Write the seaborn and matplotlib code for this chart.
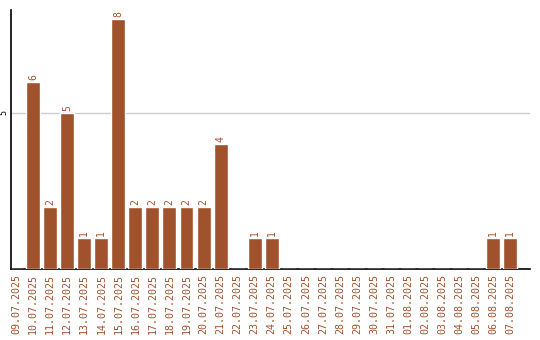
import matplotlib
matplotlib.use("Agg")
import matplotlib.pyplot as plt
import seaborn as sns
import pandas as pd

dates = ["09.07.2025", "10.07.2025", "11.07.2025", "12.07.2025", "13.07.2025",
         "14.07.2025", "15.07.2025", "16.07.2025", "17.07.2025", "18.07.2025",
         "19.07.2025", "20.07.2025", "21.07.2025", "22.07.2025", "23.07.2025",
         "24.07.2025", "25.07.2025", "26.07.2025", "27.07.2025", "28.07.2025",
         "29.07.2025", "30.07.2025", "31.07.2025", "01.08.2025", "02.08.2025",
         "03.08.2025", "04.08.2025", "05.08.2025", "06.08.2025", "07.08.2025"]
counts = [0, 6, 2, 5, 1, 1, 8, 2, 2, 2, 2, 2, 4, 0, 1, 1,
          0, 0, 0, 0, 0, 0, 0, 0, 0, 0, 0, 0, 1, 1]
y_ticks = [5]

df = pd.DataFrame({"date": dates, "count": counts})

sns.set_style("white")
plt.rcParams["font.family"] = ["DejaVu Sans Mono", "DejaVu Sans"]

bar_color = "#a0522d"
fig = plt.figure(figsize=(5.4, 3.4), dpi=100)
ax = fig.add_axes([0.0204, 0.209, 0.961, 0.762])

sns.barplot(data=df, x="date", y="count", color=bar_color, saturation=1,
            width=0.82, ax=ax, zorder=3)

for i, v in enumerate(counts):
    if v > 0:
        ax.text(i, v + 0.06, str(v), rotation=90, ha="center", va="bottom",
                fontsize=7, color=bar_color)

ax.set_ylim(0, 8.3)
ax.set_xlim(-0.3, 30.16)
ax.set_yticks(y_ticks)
ax.set_yticklabels([str(t) for t in y_ticks], rotation=90, va="center",
                   fontsize=6, color="black")
ax.tick_params(axis="y", length=0, pad=2)
ax.tick_params(axis="x", length=0, pad=4)
ax.set_xticks(range(len(dates)))
ax.set_xticklabels(dates, rotation=90, fontsize=7.2, color=bar_color)
ax.yaxis.grid(True, color="#cccccc", linewidth=1, zorder=0)
ax.set_axisbelow(True)
for s in ["top", "right"]:
    ax.spines[s].set_visible(False)
for s in ["left", "bottom"]:
    ax.spines[s].set_color("black")
    ax.spines[s].set_linewidth(1.2)
ax.set_xlabel("")
ax.set_ylabel("")

fig.savefig("out.png", dpi=100)
